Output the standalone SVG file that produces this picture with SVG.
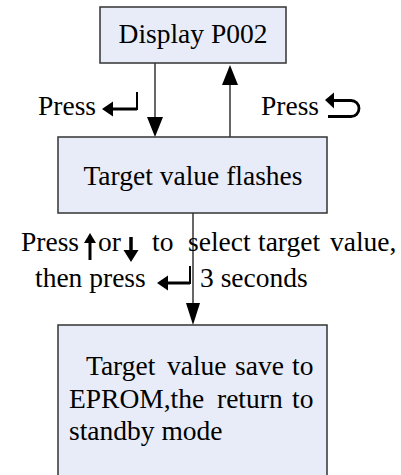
<svg xmlns="http://www.w3.org/2000/svg" width="401" height="475" viewBox="0 0 401 475">
<defs>
<style>
.box{fill:#e8ecf8;stroke:#333;stroke-width:1.5}
.t{font-family:"Liberation Serif","Times New Roman",serif;font-size:27.5px;fill:#000}
.ln{stroke:#000;stroke-width:1.2;fill:none}
.ic{fill:#000}
.ics{stroke:#000;fill:none}
</style>
</defs>
<rect width="401" height="475" fill="#fff"/>
<g id="connectors">
<path class="ln" d="M155,63 V117" />
<path d="M147,117 L163,117 L155,137 Z" fill="#000"/>
<path class="ln" d="M230,137 V85" />
<path d="M222,85 L238,85 L230,65 Z" fill="#000"/>
<path class="ln" d="M193,213 V303" />
<path d="M186,303 L200,303 L193,325 Z" fill="#000"/>
</g>
<g id="node-display">
<rect class="box" x="100" y="7" width="186" height="56"/>
<text class="t" x="193" y="43" text-anchor="middle">Display P002</text>
</g>
<g id="label-press-enter">
<text class="t" x="38" y="115">Press</text>
<path class="ic" d="M102,109 L113,101.5 L113,116.5 Z"/>
<path class="ics" stroke-width="3" d="M112,109 H137"/>
<path class="ics" stroke-width="2" d="M137,92 V110"/>
</g>
<g id="label-press-back">
<text class="t" x="261" y="115">Press</text>
<path class="ic" d="M325,100 L334,92.5 L334,108.5 Z"/>
<path class="ics" stroke-width="2.8" d="M333,100.5 H351 A8,8 0 0 1 351,116.5 H328"/>
</g>
<g id="node-flashes">
<rect class="box" x="58" y="137" width="269" height="76"/>
<text class="t" x="193" y="185" text-anchor="middle">Target value flashes</text>
</g>
<g id="label-select">
<text class="t" x="21" y="251">Press</text>
<path class="ic" d="M90,233 L84,243 L96,243 Z"/>
<path class="ics" stroke-width="3" d="M90,240 V260"/>
<text class="t" x="98" y="251">or</text>
<path class="ics" stroke-width="3.5" d="M131,237 V252"/>
<path class="ic" d="M131,262 L123.5,250 L138.5,250 Z"/>
<text class="t" y="251"><tspan x="152">to</tspan><tspan x="188">select</tspan><tspan x="258">target</tspan><tspan x="330">value,</tspan></text>
<text class="t" x="35" y="287">then press</text>
<path class="ic" d="M157,283 L168,275.5 L168,290.5 Z"/>
<path class="ics" stroke-width="3" d="M167,283 H190"/>
<path class="ics" stroke-width="2" d="M190,266 V284"/>
<text class="t" x="200" y="287">3 seconds</text>
</g>
<g id="node-save">
<rect class="box" x="58" y="325" width="269" height="160"/>
<text class="t" y="375"><tspan x="86">Target</tspan><tspan x="167">value</tspan><tspan x="235">save</tspan><tspan x="292">to</tspan></text>
<text class="t" y="408"><tspan x="69">EPROM,the</tspan><tspan x="217">return</tspan><tspan x="292">to</tspan></text>
<text class="t" x="69" y="440">standby mode</text>
</g>
</svg>
